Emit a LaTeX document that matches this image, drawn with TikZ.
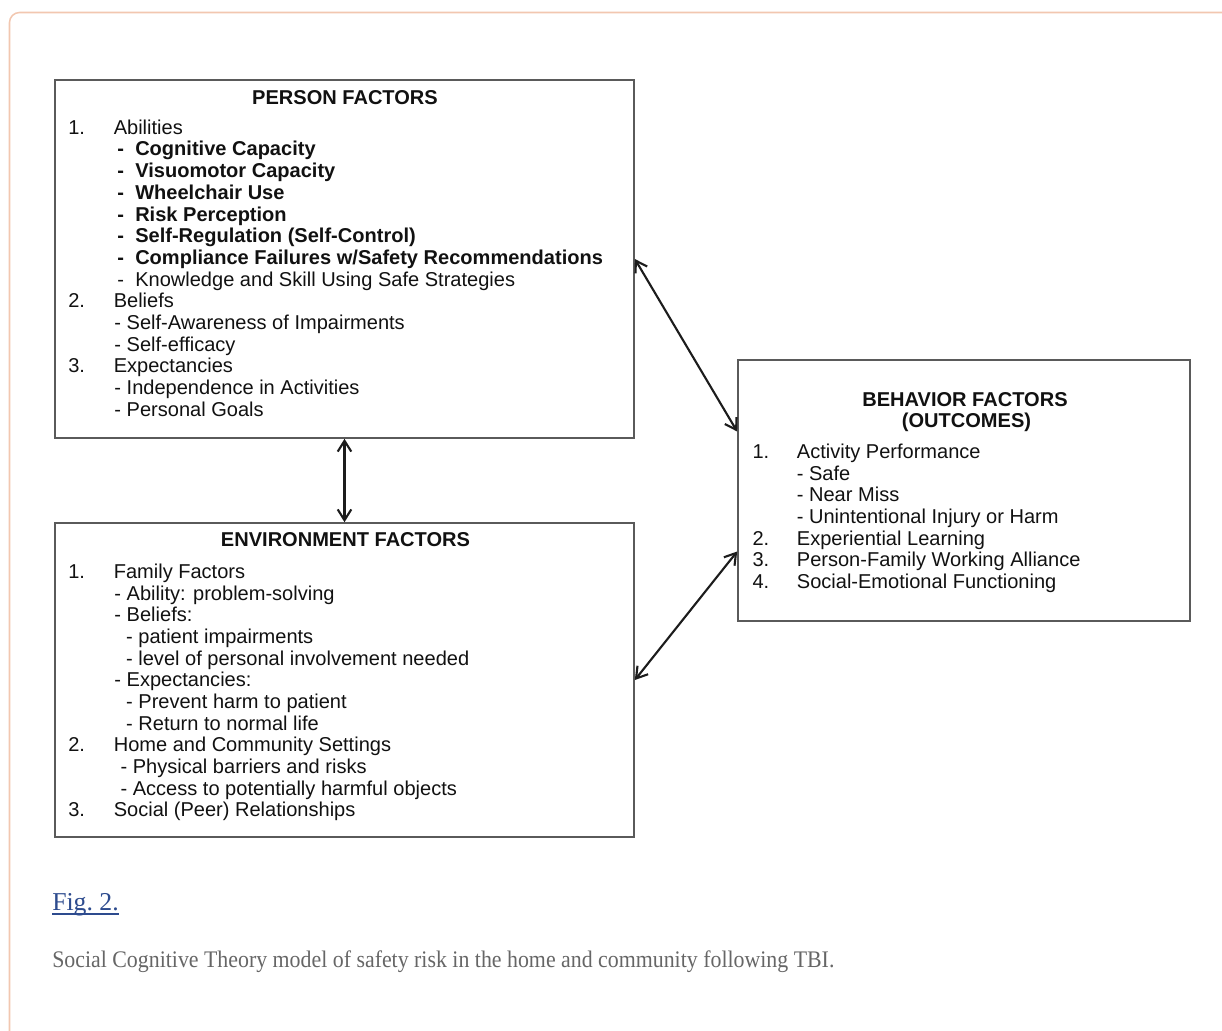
\documentclass[tikz,border=0pt]{standalone}
\usepackage{fontspec}
\setmainfont{Liberation Sans}
\newfontfamily\capfont{Liberation Serif}
\newfontfamily\capfontn[FakeStretch=0.92]{Liberation Serif}
\usepackage{tikz}
\usetikzlibrary{calc,arrows.meta}
\definecolor{ink}{HTML}{111111}
\definecolor{boxline}{HTML}{5A5A5A}
\definecolor{arrowc}{HTML}{1C1C1C}
\definecolor{framec}{HTML}{F2C7B0}
\definecolor{figblue}{HTML}{2D4B8E}
\definecolor{capgray}{HTML}{666666}
\tikzset{
  box/.style={draw=boxline, line width=1.1pt, inner sep=0pt},
  head/.style={anchor=base, inner sep=0pt, text=ink, font=\fontsize{14.25}{16}\selectfont\bfseries},
  item/.style={anchor=base west, inner sep=0pt, text=ink, font=\fontsize{14.25}{16}\selectfont},
  itemb/.style={item, font=\fontsize{14.25}{16}\selectfont\bfseries},
  link/.style={draw=arrowc, line width=1.5pt, {Straight Barb[length=2.7mm,width=3.4mm]}-{Straight Barb[length=2.7mm,width=3.4mm]}},
  frame/.style={draw=framec, line width=1.1pt, rounded corners=2.5mm},
  captext/.style={anchor=base west, inner sep=0pt, font=\capfontn\fontsize{16.9}{19}\selectfont},
}
\begin{document}
\begin{tikzpicture}[x=0.025cm, y=-0.025cm]
  \useasboundingbox (0,0) rectangle (1222,1031);
  \draw[frame] (9.5,1031) -- (9.5,12.5) -- (1222,12.5);

  % person factors
  \node[box, minimum width=14.475cm, minimum height=8.95cm] (person) at (344.5,259) {};
  \node[head] (ptitle) at (345,104.3) {PERSON FACTORS};
  \foreach \n/\y/\t [count=\i] in {1./134.3/Abilities, 2./307.7/Beliefs, 3./372.7/Expectancies} {
    \node[item] (pn\i) at (68,\y) {\n};
    \node[item] (pm\i) at (113.5,\y) {\t};
  }
  \foreach \y/\t [count=\i] in {156/Cognitive Capacity, 177.7/Visuomotor Capacity, 199.3/Wheelchair Use,
      221/Risk Perception, 242.7/Self-Regulation (Self-Control), 264.3/{Compliance Failures w/Safety Recommendations}}
    \node[itemb] (pb\i) at (117.2,\y) {-\ \ \t};
  \node[item] (pk) at (117.2,286) {-\ \ Knowledge and Skill Using Safe Strategies};
  \foreach \y/\t [count=\i] in {329.3/Self-Awareness of Impairments, 351/Self-efficacy,
      394.3/Independence in Activities, 416/Personal Goals}
    \node[item] (ps\i) at (114.2,\y) {- \t};

  % environment factors
  \node[box, minimum width=14.475cm, minimum height=7.85cm] (env) at (344.5,680) {};
  \node[head] (etitle) at (345.5,546.7) {ENVIRONMENT FACTORS};
  \foreach \n/\y/\t [count=\i] in {1./578.3/Family Factors, 2./751.7/Home and Community Settings,
      3./816.7/Social (Peer) Relationships} {
    \node[item] (en\i) at (68,\y) {\n};
    \node[item] (em\i) at (113.5,\y) {\t};
  }
  \foreach \y/\t [count=\i] in {600/Ability: problem-solving, 621.7/Beliefs:, 686.7/Expectancies:}
    \node[item] (es\i) at (114.2,\y) {- \t};
  \foreach \y/\t [count=\i] in {643.3/patient impairments, 665/level of personal involvement needed,
      708.3/Prevent harm to patient, 730/Return to normal life}
    \node[item] (ed\i) at (125.9,\y) {- \t};
  \foreach \y/\t [count=\i] in {773.3/Physical barriers and risks, 795/Access to potentially harmful objects}
    \node[item] (eh\i) at (120.3,\y) {- \t};

  % behavior factors
  \node[box, minimum width=11.3cm, minimum height=6.525cm] (behavior) at (964,490.5) {};
  \node[head] (btitle) at (965,406) {BEHAVIOR FACTORS};
  \node[head] (bsub) at (966.5,427.3) {(OUTCOMES)};
  \foreach \n/\y/\t [count=\i] in {1./458.3/Activity Performance, 2./545/Experiential Learning,
      3./566.7/Person-Family Working Alliance, 4./588.3/Social-Emotional Functioning} {
    \node[item] (bn\i) at (752.3,\y) {\n};
    \node[item] (bm\i) at (796.6,\y) {\t};
  }
  \foreach \y/\t [count=\i] in {480/Safe, 501.7/Near Miss, 523.3/Unintentional Injury or Harm}
    \node[item] (bs\i) at (796.6,\y) {- \t};

  % links
  \draw[link] (person.east) -- ($(behavior.west)+(0,-59)$);
  \draw[link] (person.south) -- (env.north);
  \draw[link] (env.east) -- ($(behavior.west)+(0,61)$);

  % caption
  \node[captext, text=figblue, font=\capfont\fontsize{18.3}{20}\selectfont] (fig) at (52,910) {Fig.\ 2.};
  \draw[figblue, line width=0.9pt] ($(fig.base west)+(0,4)$) -- ($(fig.base east)+(0,4)$);
  \node[captext, text=capgray] (caption) at (52,967) {Social Cognitive Theory model of safety risk in the home and community following TBI.};
\end{tikzpicture}
\end{document}
